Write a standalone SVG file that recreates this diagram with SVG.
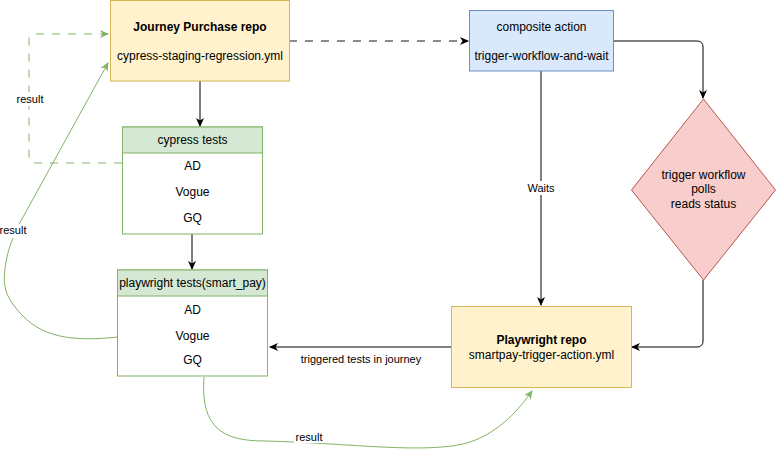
<svg xmlns="http://www.w3.org/2000/svg" width="776" height="449" viewBox="0 0 776 449">
<defs>
<style>
text{font-family:"Liberation Sans",Arial,Helvetica,sans-serif;font-size:12px;fill:#000;text-anchor:middle}
.b{font-weight:bold}
.lbl{font-size:11px}
.c{fill:none;stroke:#000;stroke-width:1}
.g{fill:none;stroke:#82b366;stroke-width:1}
.gd{fill:none;stroke:#82b366;stroke-width:1;stroke-dasharray:8 8}
.gray{fill:none;stroke:#666;stroke-width:1.3;stroke-dasharray:8 8}
.yel{fill:#fff2cc;stroke:#d6b656}
.grn{fill:#d5e8d4;stroke:#82b366}
.wht{fill:#fff;stroke:#82b366}
.blu{fill:#dae8fc;stroke:#6c8ebf}
.red{fill:#f8cecc;stroke:#b85450}
</style>
<marker id="ab" markerWidth="10" markerHeight="10" refX="8" refY="4" orient="auto" markerUnits="userSpaceOnUse">
<path d="M0,0 L9,4 L0,8 L2.5,4 Z" fill="#000"/>
</marker>
<marker id="ag" markerWidth="10" markerHeight="10" refX="8" refY="4" orient="auto" markerUnits="userSpaceOnUse">
<path d="M0,0 L9,4 L0,8 L2.5,4 Z" fill="#82b366"/>
</marker>
<marker id="agr" markerWidth="10" markerHeight="10" refX="8" refY="4" orient="auto" markerUnits="userSpaceOnUse">
<path d="M0,0 L9,4 L0,8 L2.5,4 Z" fill="#000"/>
</marker>
</defs>

<g id="connectors">
<path class="c" d="M200,81 V126" marker-end="url(#ab)"/>
<path class="c" d="M192,234 V269" marker-end="url(#ab)"/>
<path class="gray" d="M289,41 H468" marker-end="url(#agr)"/>
<path class="c" d="M614,41 H697 Q703,41 703,47 V98" marker-end="url(#ab)"/>
<path class="c" d="M703,280 V341 Q703,347 697,347 H632" marker-end="url(#ab)"/>
<path class="c" d="M541,71 V305" marker-end="url(#ab)"/>
<rect x="525" y="181" width="32" height="14" fill="#fff"/>
<text class="lbl" x="541" y="192">Waits</text>
<path class="c" d="M451,347 H270" marker-end="url(#ab)"/>
<text class="lbl" x="361" y="363">triggered tests in journey</text>
<path class="gd" d="M122,163 H35 Q29,163 29,157 V40 Q29,34 35,34 H108" marker-end="url(#ag)"/>
<rect x="14" y="92" width="32" height="14" fill="#fff"/>
<text class="lbl" x="30" y="103">result</text>
<path class="g" d="M118,337 C80,341 45,340 22,315 C4,296 2,285 6,262 C8,250 12,240 17,228 L108,63" marker-end="url(#ag)"/>
<rect x="0" y="224" width="30" height="14" fill="#fff"/>
<text class="lbl" x="13" y="234">result</text>
<path class="g" d="M204,377 C200,430 225,441 265,441 C350,443 430,455 470,442 C500,432 520,408 532,391" marker-end="url(#ag)"/>
<rect x="294" y="430" width="30" height="13" fill="#fff"/>
<text class="lbl" x="309" y="441">result</text>
</g>

<g id="journey">
<rect class="yel" x="110.5" y="0.5" width="179" height="80.5"/>
<text class="b" x="200" y="31">Journey Purchase repo</text>
<text x="200" y="60">cypress-staging-regression.yml</text>
</g>

<g id="cypress">
<rect class="wht" x="122.5" y="127" width="140" height="107"/>
<rect class="grn" x="122.5" y="127" width="140" height="26"/>
<text x="192.5" y="144">cypress tests</text>
<text x="192.5" y="170">AD</text>
<text x="192.5" y="196">Vogue</text>
<text x="192.5" y="222">GQ</text>
</g>

<g id="playwright-tests">
<rect class="wht" x="117.5" y="270" width="150" height="106"/>
<rect class="grn" x="117.5" y="270" width="150" height="26"/>
<text x="192.5" y="287">playwright tests(smart_pay)</text>
<text x="192.5" y="314">AD</text>
<text x="192.5" y="340">Vogue</text>
<text x="192.5" y="364">GQ</text>
</g>

<g id="composite">
<rect class="blu" x="469.5" y="10.5" width="144" height="60.5"/>
<text x="541.5" y="31">composite action</text>
<text x="541.5" y="60">trigger-workflow-and-wait</text>
</g>

<g id="trigger">
<path class="red" d="M703.5,99 L775.5,190 L703.5,280 L631.5,190 Z"/>
<text x="703.5" y="179">trigger workflow</text>
<text x="703.5" y="193">polls</text>
<text x="703.5" y="208">reads status</text>
</g>

<g id="playwright-repo">
<rect class="yel" x="451.5" y="306.5" width="180" height="81"/>
<text class="b" x="541.5" y="344">Playwright repo</text>
<text x="541.5" y="359">smartpay-trigger-action.yml</text>
</g>
</svg>
